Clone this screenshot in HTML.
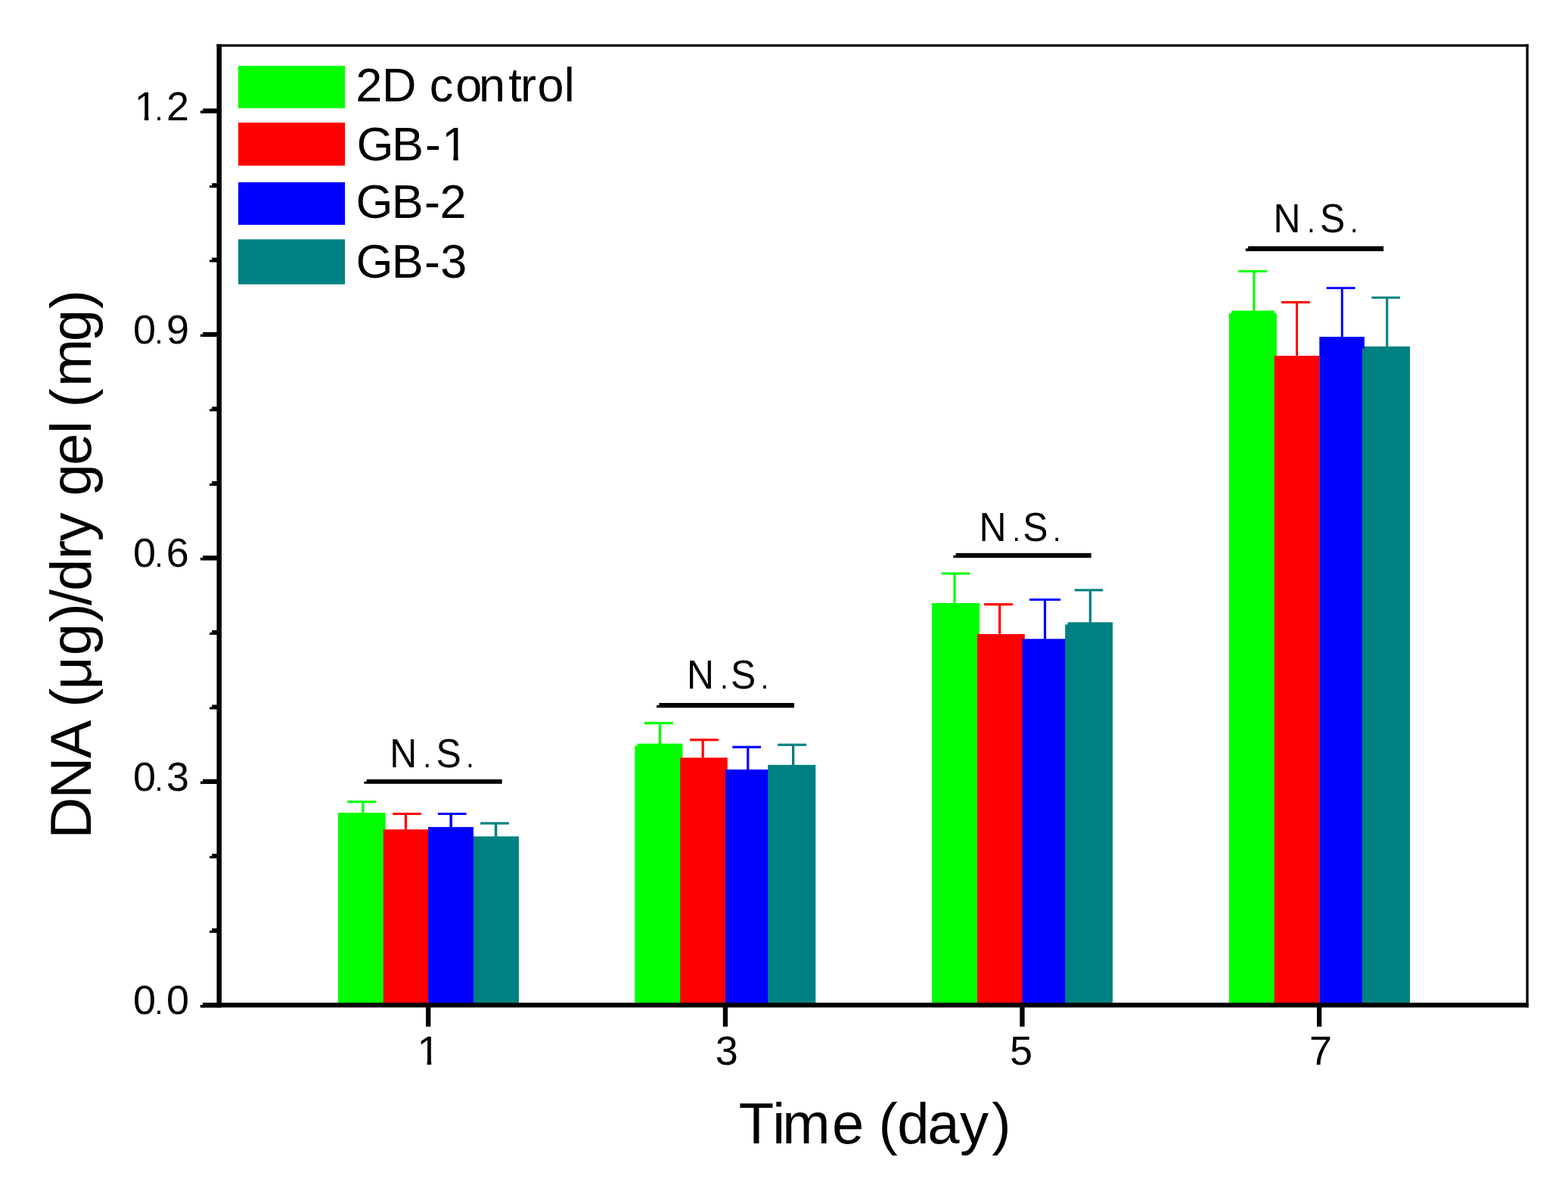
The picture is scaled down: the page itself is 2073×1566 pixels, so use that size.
<!DOCTYPE html>
<html><head><meta charset="utf-8"><title>DNA content chart</title>
<style>
html,body{margin:0;padding:0;background:#fff;overflow:hidden;}
svg{display:block;}
text{font-family:"Liberation Sans", Arial, sans-serif;fill:#000;}
</style></head>
<body>
<svg width="2073" height="1566" viewBox="0 0 2073 1566">
<rect x="0" y="0" width="2073" height="1566" fill="#ffffff"/>
<rect x="446.9" y="1074.0" width="62.8" height="254.3" fill="#00ff00"/>
<rect x="506.8" y="1096.1" width="59.3" height="232.2" fill="#ff0000"/>
<rect x="566.1" y="1092.9" width="59.9" height="235.4" fill="#0000ff"/>
<rect x="626.0" y="1105.3" width="59.9" height="223.0" fill="#008080"/>
<rect x="459.3" y="1058.0" width="37.8" height="3.2" fill="#00ff00"/>
<rect x="478.2" y="1059.6" width="3.2" height="14.9" fill="#00ff00"/>
<rect x="519.2" y="1074.0" width="37.8" height="3.0" fill="#ff0000"/>
<rect x="534.8" y="1075.5" width="3.3" height="21.1" fill="#ff0000"/>
<rect x="578.9" y="1074.0" width="37.7" height="3.0" fill="#0000ff"/>
<rect x="594.4" y="1075.5" width="3.6" height="17.9" fill="#0000ff"/>
<rect x="635.1" y="1086.4" width="37.8" height="3.2" fill="#008080"/>
<rect x="653.8" y="1088.0" width="3.5" height="17.8" fill="#008080"/>
<rect x="839.3" y="982.7" width="63.2" height="345.6" fill="#00ff00"/>
<rect x="899.2" y="1001.3" width="62.6" height="327.0" fill="#ff0000"/>
<rect x="959.2" y="1016.9" width="59.3" height="311.4" fill="#0000ff"/>
<rect x="1015.2" y="1010.8" width="63.1" height="317.5" fill="#008080"/>
<rect x="852.0" y="954.0" width="37.9" height="3.3" fill="#00ff00"/>
<rect x="870.8" y="955.6" width="3.3" height="27.6" fill="#00ff00"/>
<rect x="912.0" y="976.2" width="37.8" height="3.1" fill="#ff0000"/>
<rect x="927.6" y="977.8" width="3.2" height="24.0" fill="#ff0000"/>
<rect x="968.3" y="985.7" width="37.7" height="3.2" fill="#0000ff"/>
<rect x="987.2" y="987.3" width="3.2" height="30.1" fill="#0000ff"/>
<rect x="1028.2" y="982.7" width="37.8" height="3.2" fill="#008080"/>
<rect x="1047.0" y="984.3" width="3.3" height="27.0" fill="#008080"/>
<rect x="1232.1" y="797.0" width="63.0" height="531.3" fill="#00ff00"/>
<rect x="1292.0" y="838.0" width="62.8" height="490.3" fill="#ff0000"/>
<rect x="1351.5" y="844.3" width="59.5" height="484.0" fill="#0000ff"/>
<rect x="1408.2" y="822.3" width="62.8" height="506.0" fill="#008080"/>
<rect x="1244.7" y="756.4" width="37.8" height="3.0" fill="#00ff00"/>
<rect x="1260.4" y="757.9" width="3.2" height="39.6" fill="#00ff00"/>
<rect x="1301.1" y="797.1" width="37.8" height="3.2" fill="#ff0000"/>
<rect x="1320.0" y="798.7" width="3.3" height="39.8" fill="#ff0000"/>
<rect x="1361.0" y="790.9" width="41.0" height="3.0" fill="#0000ff"/>
<rect x="1379.9" y="792.4" width="3.2" height="52.4" fill="#0000ff"/>
<rect x="1420.8" y="778.3" width="37.5" height="3.1" fill="#008080"/>
<rect x="1439.7" y="779.8" width="3.3" height="43.0" fill="#008080"/>
<rect x="1624.9" y="410.6" width="63.0" height="917.7" fill="#00ff00"/>
<rect x="1684.6" y="470.2" width="59.7" height="858.1" fill="#ff0000"/>
<rect x="1744.3" y="445.1" width="59.6" height="883.2" fill="#0000ff"/>
<rect x="1800.8" y="457.8" width="63.2" height="870.5" fill="#008080"/>
<rect x="1637.3" y="357.0" width="37.8" height="3.0" fill="#00ff00"/>
<rect x="1656.3" y="358.5" width="3.0" height="52.6" fill="#00ff00"/>
<rect x="1694.0" y="397.9" width="37.8" height="3.1" fill="#ff0000"/>
<rect x="1713.0" y="399.4" width="3.0" height="71.2" fill="#ff0000"/>
<rect x="1753.8" y="379.2" width="37.8" height="2.9" fill="#0000ff"/>
<rect x="1772.8" y="380.6" width="3.0" height="65.0" fill="#0000ff"/>
<rect x="1813.4" y="391.8" width="37.7" height="3.0" fill="#008080"/>
<rect x="1832.2" y="393.3" width="3.1" height="65.0" fill="#008080"/>
<rect x="286.5" y="58.5" width="1734.3" height="3.2" fill="#000"/>
<rect x="2017.5" y="58.5" width="3.3" height="1272.9" fill="#000"/>
<rect x="286.5" y="58.5" width="6.5" height="1272.9" fill="#000"/>
<rect x="268.0" y="1325.1" width="1752.8" height="6.3" fill="#000"/>
<rect x="264.8" y="1328.4" width="3.4" height="2.9" fill="#000"/>
<rect x="268.2" y="1325.1" width="21.8" height="6.3" fill="#000"/>
<rect x="265.0" y="1327.9" width="3.4" height="3.6" fill="#000"/>
<rect x="280.2" y="1226.8" width="9.8" height="6.0" fill="#000"/>
<rect x="277.1" y="1229.7" width="3.3" height="3.1" fill="#000"/>
<rect x="280.2" y="1128.3" width="9.8" height="6.0" fill="#000"/>
<rect x="277.1" y="1131.2" width="3.3" height="3.1" fill="#000"/>
<rect x="268.2" y="1029.7" width="21.8" height="6.3" fill="#000"/>
<rect x="265.0" y="1032.5" width="3.4" height="3.6" fill="#000"/>
<rect x="280.2" y="931.4" width="9.8" height="6.0" fill="#000"/>
<rect x="277.1" y="934.3" width="3.3" height="3.1" fill="#000"/>
<rect x="280.2" y="832.9" width="9.8" height="6.0" fill="#000"/>
<rect x="277.1" y="835.8" width="3.3" height="3.1" fill="#000"/>
<rect x="268.2" y="734.3" width="21.8" height="6.3" fill="#000"/>
<rect x="265.0" y="737.0" width="3.4" height="3.5" fill="#000"/>
<rect x="280.2" y="636.0" width="9.8" height="6.0" fill="#000"/>
<rect x="277.1" y="638.9" width="3.3" height="3.1" fill="#000"/>
<rect x="280.2" y="537.5" width="9.8" height="6.0" fill="#000"/>
<rect x="277.1" y="540.4" width="3.3" height="3.1" fill="#000"/>
<rect x="268.2" y="438.9" width="21.8" height="6.3" fill="#000"/>
<rect x="265.0" y="441.6" width="3.4" height="3.5" fill="#000"/>
<rect x="280.2" y="340.5" width="9.8" height="6.0" fill="#000"/>
<rect x="277.1" y="343.4" width="3.3" height="3.1" fill="#000"/>
<rect x="280.2" y="242.1" width="9.8" height="6.0" fill="#000"/>
<rect x="277.1" y="245.0" width="3.3" height="3.1" fill="#000"/>
<rect x="268.2" y="143.4" width="21.8" height="6.3" fill="#000"/>
<rect x="265.0" y="146.2" width="3.4" height="3.6" fill="#000"/>
<rect x="563.1" y="1328.0" width="6.3" height="28.7" fill="#000"/>
<rect x="955.8" y="1328.0" width="6.3" height="28.7" fill="#000"/>
<rect x="1348.3" y="1328.0" width="6.3" height="28.7" fill="#000"/>
<rect x="1741.0" y="1328.0" width="6.3" height="28.7" fill="#000"/>
<rect x="484.6" y="1029.9" width="179.1" height="5.9" fill="#000"/>
<rect x="481.3" y="1032.8" width="3.5" height="3.0" fill="#000"/>
<rect x="871.3" y="929.0" width="178.7" height="6.3" fill="#000"/>
<rect x="868.0" y="931.9" width="3.5" height="3.4" fill="#000"/>
<rect x="1263.7" y="731.0" width="179.0" height="6.2" fill="#000"/>
<rect x="1260.4" y="733.9" width="3.5" height="3.3" fill="#000"/>
<rect x="1650.1" y="325.4" width="179.1" height="6.6" fill="#000"/>
<rect x="1646.8" y="328.3" width="3.5" height="3.7" fill="#000"/>
<rect x="839.3" y="982.2" width="3.3" height="3.5" fill="#fff"/>
<rect x="1624.9" y="410.1" width="3.2" height="3.9" fill="#fff"/>
<rect x="1684.6" y="410.1" width="3.3" height="3.9" fill="#fff"/>
<rect x="1408.2" y="821.8" width="3.3" height="3.6" fill="#fff"/>
<rect x="1800.8" y="457.3" width="3.1" height="3.4" fill="#0000ff"/>
<rect x="315.0" y="87.0" width="141.1" height="56.1" fill="#00ff00"/>
<rect x="315.0" y="162.0" width="141.1" height="56.9" fill="#ff0000"/>
<rect x="315.0" y="240.8" width="141.1" height="56.4" fill="#0000ff"/>
<rect x="315.0" y="316.3" width="141.1" height="59.4" fill="#008080"/>
<text y="1340.3" font-size="54"><tspan x="175.9">0</tspan><tspan x="204.4" font-size="40">.</tspan><tspan x="219.9">0</tspan></text>
<text y="1044.9" font-size="54"><tspan x="175.9">0</tspan><tspan x="204.4" font-size="40">.</tspan><tspan x="220.0">3</tspan></text>
<text y="749.4" font-size="54"><tspan x="175.9">0</tspan><tspan x="204.4" font-size="40">.</tspan><tspan x="219.7">6</tspan></text>
<text y="454.0" font-size="54"><tspan x="175.9">0</tspan><tspan x="204.4" font-size="40">.</tspan><tspan x="219.9">9</tspan></text>
<text y="158.6" font-size="54"><tspan x="177.7">1</tspan><tspan x="204.4" font-size="40">.</tspan><tspan x="219.9">2</tspan></text>
<text x="551.4" y="1407" font-size="54">1</text>
<text x="945.7" y="1407" font-size="54">3</text>
<text x="1335.0" y="1407" font-size="54">5</text>
<text x="1731.0" y="1407" font-size="54">7</text>
<text y="1013.7" font-size="53" transform="scale(0.94,1)"><tspan x="548.2">N</tspan><tspan x="595.2" font-size="40">.</tspan><tspan x="613.3">S</tspan><tspan x="655.6" font-size="40">.</tspan></text>
<text y="909.9" font-size="53" transform="scale(0.94,1)"><tspan x="965.9">N</tspan><tspan x="1013.1" font-size="40">.</tspan><tspan x="1027.7">S</tspan><tspan x="1070.0" font-size="40">.</tspan></text>
<text y="715.4" font-size="53" transform="scale(0.94,1)"><tspan x="1377.0">N</tspan><tspan x="1424.0" font-size="40">.</tspan><tspan x="1438.5">S</tspan><tspan x="1480.9" font-size="40">.</tspan></text>
<text y="306.7" font-size="53" transform="scale(0.94,1)"><tspan x="1791.1">N</tspan><tspan x="1838.5" font-size="40">.</tspan><tspan x="1856.5">S</tspan><tspan x="1899.0" font-size="40">.</tspan></text>
<text x="470.2 504.9 550.4 567.8 602.3 633.1 672.3 687.9 710.5 745.7" y="133.5" font-size="63">2D control</text>
<text x="471.4 518.1 562.1 583.9" y="212.3" font-size="63">GB-1</text>
<text x="470.5 517.7 561.0 581.4" y="287.6" font-size="63">GB-2</text>
<text x="470.5 517.7 561.0 582.3" y="366.6" font-size="63">GB-3</text>
<text x="976.7 1021.3 1034.2 1100.0 1142.3 1161.5 1186.3 1226.3 1268.9 1311.3" y="1510.5" font-size="76">Time (day)</text>
<text transform="translate(120.0,0) rotate(-90)" x="-1108.6 -1055.6 -1002.2 -951.6 -934.7 -911.2 -866.2 -822.4 -800.0 -781.0 -739.3 -715.2 -677.2 -655.6 -615.0 -572.9 -556.0 -538.4 -511.0 -451.2 -408.3" y="0" font-size="76">DNA (μg)/dry gel (mg)</text>
<rect x="180.3" y="154.0" width="10.6" height="5.4" fill="#fff"/>
<rect x="196.5" y="154.0" width="10.5" height="5.4" fill="#fff"/>
<rect x="554.0" y="1402.4" width="10.6" height="5.4" fill="#fff"/>
<rect x="570.2" y="1402.4" width="10.5" height="5.4" fill="#fff"/>
<rect x="587.2" y="207.0" width="12.2" height="6.1" fill="#fff"/>
<rect x="605.7" y="207.0" width="12.0" height="6.1" fill="#fff"/>
</svg>
</body></html>
